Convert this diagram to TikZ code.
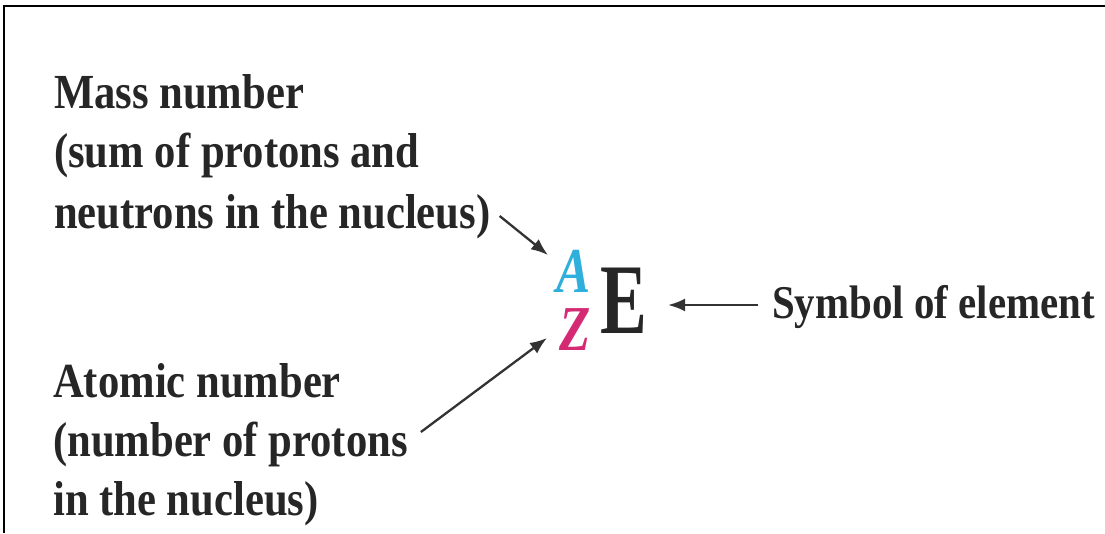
\documentclass[tikz,border=0pt]{standalone}
\usepackage{fontspec}
\setmainfont[FakeStretch=0.87]{Liberation Serif}
\newfontfamily\efont[FakeStretch=0.7]{Liberation Serif}
\newfontfamily\azfont[FakeStretch=0.8]{Liberation Serif}
\usetikzlibrary{arrows.meta,calc}
\definecolor{txt}{HTML}{262626}
\definecolor{arr}{HTML}{333333}
\definecolor{acol}{HTML}{2EAFDC}
\definecolor{zcol}{HTML}{D42A74}
\tikzset{
  lbl/.style={anchor=base west, inner sep=0pt, text=txt, font=\fontsize{49}{58}\selectfont\bfseries},
  pointer/.style={draw=arr, line width=2.3pt, -{Latex[length=17pt,width=13pt]}},
  frameline/.style={draw=black, line width=2.5pt}
}
\begin{document}
\begin{tikzpicture}[x=1pt,y=-1pt]
\useasboundingbox (0,0) rectangle (1105,533);
\draw[frameline] (4,533) -- (4,6) -- (1110,6);
\node[lbl] (m1) at (54,108) {Mass number};
\node[lbl] (m2) at (54,167) {(sum of protons and};
\node[lbl] (m3) at (54,228) {neutrons in the nucleus)};
\node[lbl] (a1) at (53,397) {Atomic number};
\node[lbl] (a2) at (53,456) {(number of protons};
\node[lbl] (a3) at (53,515) {in the nucleus)};
\node[lbl, font=\fontsize{47}{58}\selectfont\bfseries] (sym) at (772,318) {Symbol of element};
\node[anchor=base west, inner sep=0pt, text=txt, font=\efont\fontsize{100}{100}\selectfont\bfseries] (E) at (600,333) {E};
\node[anchor=base west, inner sep=0pt, text=acol, font=\azfont\fontsize{64}{64}\selectfont\bfseries\itshape] (A) at (556,292) {A};
\node[anchor=base west, inner sep=0pt, text=zcol, font=\azfont\fontsize{64}{64}\selectfont\bfseries\itshape] (Z) at (559,350) {Z};
\draw[pointer] ($(m3.base east)+(9,-12)$) -- ($(A.base west)+(-8,-37)$);
\draw[pointer] ($(a2.base east)+(13,-24)$) -- ($(Z.base west)+(-12,-12)$);
\draw[pointer] ($(sym.base west)+(-14,-13)$) -- ($(E.base east)+(21,-28)$);
\end{tikzpicture}
\end{document}
